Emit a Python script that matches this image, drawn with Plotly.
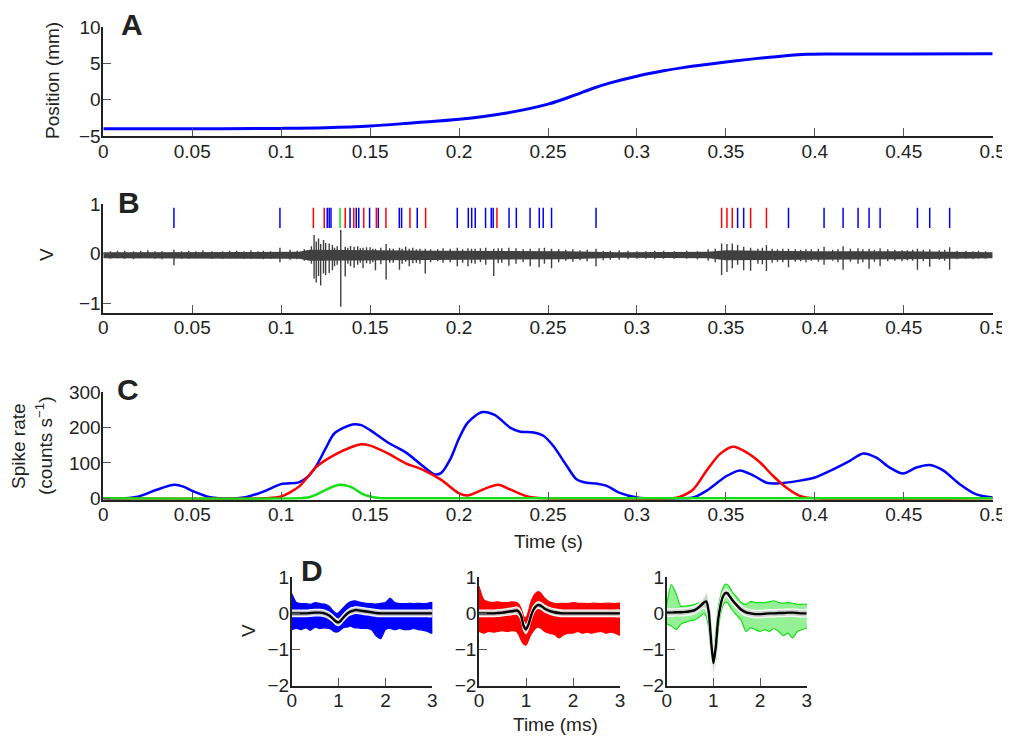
import plotly.graph_objects as go

# The page body adds an 8px margin, so every pixel position below is given in
# screenshot pixels and shifted by OFF; the height is reduced to fit the window.
OFF = 8
W, H = 1010, 738 - OFF
FONT = "Liberation Sans"
TXT = "#222222"
BLUE, RED, GREEN, DARK = "#0000ff", "#ff0000", "#14e014", "#404040"

# ---------------- Panel A: position ----------------
pos_t = [0, 0.05, 0.1, 0.125, 0.15, 0.175, 0.2, 0.225, 0.25, 0.265, 0.275, 0.285,
         0.3, 0.315, 0.325, 0.35, 0.376, 0.396, 0.42, 0.45, 0.5]
pos_mm = [-4.0, -4.0, -3.95, -3.86, -3.63, -3.17, -2.7, -1.9, -0.6, 0.64, 1.56, 2.33,
          3.25, 3.99, 4.4, 5.2, 5.9, 6.28, 6.3, 6.3, 6.35]

# ---------------- Panel B: raw trace + rasters ----------------
noise_t = [0, 0.11, 0.116, 0.14, 0.19, 0.26, 0.29, 0.34, 0.35, 0.40, 0.45, 0.5]
noise_hi = [0.03, 0.04, 0.08, 0.07, 0.06, 0.05, 0.03, 0.04, 0.07, 0.05, 0.05, 0.03]
noise_lo = [-0.09, -0.10, -0.14, -0.13, -0.12, -0.11, -0.08, -0.09, -0.13, -0.12, -0.11, -0.09]

event_t = [0.004, 0.008, 0.012, 0.017, 0.021, 0.025, 0.029, 0.033, 0.0397, 0.044, 0.048, 0.052,
           0.056, 0.061, 0.067, 0.071, 0.075, 0.079, 0.083, 0.087, 0.09, 0.094, 0.0993, 0.105,
           0.109, 0.113,
           0.117, 0.1185, 0.1197, 0.121, 0.1222, 0.1238, 0.125, 0.127, 0.1288, 0.13, 0.1315, 0.1335,
           0.136, 0.1375, 0.139, 0.141, 0.143, 0.1445, 0.146, 0.148, 0.15, 0.1515, 0.153, 0.156,
           0.159, 0.161, 0.163, 0.1665, 0.168, 0.17, 0.172, 0.174, 0.176, 0.178, 0.181, 0.184,
           0.188, 0.191, 0.195, 0.199, 0.202, 0.205, 0.207, 0.209, 0.212, 0.215, 0.2195, 0.222,
           0.224, 0.228, 0.232, 0.236, 0.24, 0.245, 0.248, 0.252, 0.256, 0.26, 0.264, 0.268,
           0.272, 0.277, 0.281, 0.285, 0.29, 0.295, 0.3, 0.305, 0.31, 0.315, 0.321, 0.328, 0.334,
           0.34, 0.344,
           0.3476, 0.3506, 0.3536, 0.3566, 0.36, 0.3639, 0.368, 0.3705, 0.3728, 0.376, 0.379,
           0.382, 0.3852, 0.389, 0.392, 0.395, 0.398, 0.402, 0.4052, 0.41, 0.413, 0.4159, 0.42,
           0.4243, 0.427, 0.4305, 0.4335, 0.4367, 0.441, 0.445, 0.449, 0.452, 0.455, 0.4577,
           0.461, 0.4646, 0.47, 0.473, 0.4758, 0.48, 0.485, 0.489, 0.492, 0.496]
event_hi = [0.05, 0.06, 0.06, 0.05, 0.06, 0.07, 0.05, 0.05, 0.08, 0.05, 0.06, 0.05,
            0.07, 0.05, 0.05, 0.06, 0.06, 0.05, 0.07, 0.05, 0.06, 0.05, 0.12, 0.08,
            0.06, 0.09,
            0.15, 0.38, 0.25, 0.31, 0.20, 0.28, 0.22, 0.21, 0.18, 0.12, 0.15, 0.48,
            0.14, 0.12, 0.16, 0.14, 0.15, 0.11, 0.12, 0.13, 0.13, 0.10, 0.10, 0.12,
            0.20, 0.11, 0.10, 0.12, 0.10, 0.14, 0.10, 0.12, 0.09, 0.10, 0.10, 0.09,
            0.09, 0.11, 0.10, 0.12, 0.09, 0.11, 0.10, 0.10, 0.11, 0.12, 0.10, 0.11,
            0.11, 0.12, 0.11, 0.09, 0.10, 0.11, 0.12, 0.10, 0.09, 0.08, 0.09, 0.07,
            0.08, 0.10, 0.06, 0.06, 0.07, 0.06, 0.05, 0.05, 0.06, 0.06, 0.05, 0.06, 0.05,
            0.09, 0.10,
            0.21, 0.20, 0.21, 0.18, 0.14, 0.12, 0.10, 0.12, 0.18, 0.10, 0.09,
            0.10, 0.10, 0.09, 0.08, 0.09, 0.09, 0.10, 0.14, 0.08, 0.09, 0.15, 0.10,
            0.11, 0.09, 0.10, 0.08, 0.11, 0.09, 0.08, 0.07, 0.07, 0.08, 0.10,
            0.08, 0.09, 0.07, 0.08, 0.13, 0.06, 0.06, 0.05, 0.06, 0.05]
event_lo = [-0.10, -0.09, -0.10, -0.11, -0.09, -0.09, -0.10, -0.11, -0.23, -0.10, -0.10, -0.09,
            -0.08, -0.10, -0.10, -0.09, -0.09, -0.10, -0.10, -0.09, -0.11, -0.10, -0.17, -0.12,
            -0.11, -0.14,
            -0.20, -0.50, -0.58, -0.45, -0.64, -0.40, -0.43, -0.39, -0.33, -0.25, -0.22, -1.07,
            -0.46, -0.20, -0.25, -0.28, -0.22, -0.18, -0.29, -0.19, -0.20, -0.17, -0.33, -0.21,
            -0.52, -0.18, -0.18, -0.32, -0.20, -0.16, -0.25, -0.19, -0.18, -0.20, -0.40, -0.17,
            -0.15, -0.18, -0.17, -0.25, -0.18, -0.25, -0.19, -0.20, -0.17, -0.22, -0.45, -0.19,
            -0.18, -0.24, -0.20, -0.17, -0.25, -0.27, -0.2, -0.29, -0.17, -0.14, -0.16, -0.13,
            -0.15, -0.25, -0.13, -0.12, -0.12, -0.11, -0.10, -0.10, -0.11, -0.10, -0.10, -0.10, -0.11,
            -0.14, -0.17,
            -0.43, -0.37, -0.29, -0.22, -0.33, -0.34, -0.20, -0.21, -0.35, -0.18, -0.16,
            -0.17, -0.27, -0.16, -0.15, -0.17, -0.14, -0.16, -0.22, -0.14, -0.17, -0.32, -0.16,
            -0.20, -0.17, -0.30, -0.16, -0.25, -0.15, -0.14, -0.15, -0.13, -0.14, -0.32,
            -0.15, -0.26, -0.12, -0.14, -0.32, -0.11, -0.10, -0.11, -0.10, -0.10]

blue_spikes = [0.0397, 0.0993, 0.1259, 0.1270, 0.1280, 0.1387, 0.1422, 0.1436, 0.1497, 0.1546,
               0.1664, 0.1677, 0.1765, 0.1990, 0.2052, 0.2071, 0.2091, 0.2149, 0.2181, 0.2192,
               0.2281, 0.2322, 0.2399, 0.2451, 0.2473, 0.2520, 0.2770, 0.3566, 0.3600, 0.3852,
               0.4052, 0.4159, 0.4243, 0.4305, 0.4367, 0.4577, 0.4646, 0.4758]
red_spikes = [0.1181, 0.1242, 0.1360, 0.1408, 0.1464, 0.1535, 0.1589, 0.1724, 0.1812, 0.2213,
              0.3476, 0.3506, 0.3536, 0.3639, 0.3728]
green_spikes = [0.1331]
raster_lo, raster_hi = 0.52, 0.93

# ---------------- Panel C: spike rates ----------------
rate_blue_t = [0, 0.012, 0.02, 0.03, 0.04, 0.045, 0.05, 0.06, 0.065, 0.075, 0.08, 0.09, 0.1, 0.11,
               0.115, 0.12, 0.125, 0.13, 0.14, 0.145, 0.15, 0.16, 0.17, 0.18, 0.186, 0.19, 0.195,
               0.2, 0.205, 0.213, 0.22, 0.2287, 0.234, 0.242, 0.2474, 0.253, 0.2605, 0.266,
               0.2717, 0.277, 0.283, 0.29, 0.3, 0.305, 0.325, 0.3316, 0.339, 0.3504, 0.3578,
               0.3653, 0.3728, 0.3785, 0.3916, 0.4, 0.4103, 0.4197, 0.4272, 0.4346, 0.4421,
               0.4496, 0.4571, 0.4646, 0.4721, 0.4815, 0.4908, 0.5]
rate_blue = [0, 0, 5, 24, 38, 33, 21, 3, 0, 0, 3, 19, 40, 45,
             61, 94, 141, 184, 209, 207, 193, 158, 130, 90, 68, 72, 110,
             170, 215, 244, 236, 200, 189, 186, 177, 148, 92, 54,
             44, 42, 35, 16, 2, 0, 0, 2, 21, 63, 79,
             65, 44, 42, 50, 59, 82, 106, 127, 115, 87,
             70, 87, 94, 79, 40, 11, 2]
rate_red_t = [0, 0.09, 0.1, 0.11, 0.115, 0.12, 0.13, 0.14, 0.145, 0.15, 0.16, 0.17, 0.18, 0.19,
              0.2, 0.205, 0.215, 0.222, 0.2287, 0.238, 0.2474, 0.32, 0.324, 0.3316, 0.339,
              0.3466, 0.3541, 0.3616, 0.3691, 0.3766, 0.3841, 0.3916, 0.4, 0.5]
rate_red = [0, 0, 5, 33, 61, 90, 123, 146, 153, 149, 127, 99, 80, 52,
            14, 8, 28, 38, 25, 6, 0, 0, 4, 25, 77,
            125, 146, 130, 102, 63, 30, 7, 0, 0]
rate_green_t = [0, 0.11, 0.115, 0.12, 0.125, 0.133, 0.14, 0.145, 0.15, 0.155, 0.16, 0.5]
rate_green = [0, 0, 2, 11, 24, 38, 30, 14, 5, 1, 0, 0]

# ---------------- Panel D: waveforms (ms, V) ----------------
wf_t = [0, 0.1, 0.2, 0.3, 0.4, 0.5, 0.6, 0.7, 0.8, 0.85, 0.9, 0.95, 1.0, 1.05, 1.1, 1.15, 1.2,
        1.25, 1.3, 1.35, 1.4, 1.5, 1.6, 1.7, 1.8, 1.9, 2.0, 2.1, 2.2, 2.3, 2.4, 2.5, 2.6, 2.7,
        2.8, 2.9, 3.0]
blue_mean = [0, 0, 0, 0, 0.01, 0.02, 0.02, 0, -0.06, -0.11, -0.17, -0.23, -0.25, -0.2, -0.12,
             -0.05, 0.01, 0.05, 0.07, 0.09, 0.09, 0.07, 0.05, 0.03, 0.01, 0, 0, 0, 0, 0, 0, 0,
             0, 0, 0, 0, 0]
blue_sd = [0.09] * 37
blue_hi = [0.55, 0.3, 0.27, 0.27, 0.25, 0.3, 0.27, 0.26, 0.2, 0.12, 0.05, 0.0, 0.02, 0.08, 0.15,
           0.22, 0.28, 0.32, 0.34, 0.35, 0.33, 0.3, 0.28, 0.27, 0.26, 0.28, 0.3, 0.42, 0.3, 0.27,
           0.27, 0.28, 0.27, 0.28, 0.27, 0.28, 0.3]
blue_lo = [-0.45, -0.42, -0.45, -0.4, -0.47, -0.38, -0.42, -0.4, -0.42, -0.45, -0.5, -0.52, -0.5,
           -0.45, -0.4, -0.38, -0.38, -0.35, -0.38, -0.4, -0.4, -0.42, -0.42, -0.45, -0.62, -0.7,
           -0.45, -0.42, -0.45, -0.42, -0.45, -0.45, -0.42, -0.45, -0.47, -0.5, -0.55]
red_mean = [0, 0, 0, 0, 0.01, 0.02, 0.04, 0.06, 0.08, 0.04, -0.08, -0.35, -0.44, -0.32, -0.1,
            0.08, 0.18, 0.23, 0.22, 0.18, 0.13, 0.07, 0.03, 0.01, 0, 0, 0, 0, 0, 0, 0, 0, 0,
            0, 0, 0, 0]
red_sd = [0.09] * 8 + [0.1, 0.11, 0.12, 0.12, 0.12, 0.12, 0.11, 0.1] + [0.09] * 21
red_hi = [0.75, 0.38, 0.32, 0.3, 0.32, 0.3, 0.3, 0.32, 0.3, 0.25, 0.12, -0.08, -0.12, 0.05, 0.3,
          0.45, 0.55, 0.6, 0.58, 0.5, 0.42, 0.32, 0.28, 0.27, 0.28, 0.27, 0.3, 0.28, 0.28, 0.27,
          0.28, 0.28, 0.27, 0.28, 0.28, 0.27, 0.28]
red_lo = [-0.5, -0.55, -0.5, -0.52, -0.5, -0.48, -0.5, -0.48, -0.5, -0.6, -0.75, -0.85, -0.88,
          -0.75, -0.6, -0.5, -0.42, -0.38, -0.4, -0.45, -0.5, -0.55, -0.58, -0.68, -0.6, -0.55,
          -0.55, -0.5, -0.55, -0.52, -0.55, -0.52, -0.5, -0.55, -0.52, -0.55, -0.6]
green_mean = [0.02, 0.02, 0.03, 0.03, 0.04, 0.06, 0.09, 0.18, 0.3, 0.33, 0.05, -0.74, -1.38,
              -0.95, -0.2, 0.2, 0.45, 0.56, 0.56, 0.47, 0.38, 0.23, 0.1, 0.03, 0.0, -0.02, -0.02,
              -0.01, 0, 0, 0.01, 0.01, 0.02, 0.02, 0.01, 0, 0]
green_sd = [0.1] * 8 + [0.15, 0.25, 0.3, 0.35, 0.35, 0.3, 0.2, 0.15, 0.12] + [0.1] * 20
green_hi = [0.25, 0.8, 0.55, 0.2, 0.2, 0.22, 0.25, 0.3, 0.4, 0.45, 0.3, -0.4, -1.05, -0.55, 0.1,
            0.45, 0.68, 0.8, 0.8, 0.72, 0.6, 0.45, 0.3, 0.25, 0.33, 0.3, 0.3, 0.3, 0.32, 0.35,
            0.3, 0.28, 0.3, 0.28, 0.25, 0.25, 0.25]
green_lo = [-0.3, -0.35, -0.45, -0.3, -0.25, -0.2, -0.18, -0.1, 0.0, -0.1, -0.4, -1.05, -1.55,
            -1.3, -0.5, -0.05, 0.2, 0.3, 0.3, 0.2, 0.1, -0.05, -0.2, -0.5, -0.4, -0.45, -0.5,
            -0.45, -0.5, -0.42, -0.5, -0.62, -0.55, -0.68, -0.5, -0.45, -0.4]

# ---------------- tick labels ----------------
time_s_ticks = [0, 0.05, 0.1, 0.15, 0.2, 0.25, 0.3, 0.35, 0.4, 0.45, 0.5]
time_s_text = ["0", "0.05", "0.1", "0.15", "0.2", "0.25", "0.3", "0.35", "0.4", "0.45", "0.5"]
pos_ticks, pos_text = [-5, 0, 5, 10], ["\u22125", "0", "5", "10"]
v_ticks, v_text = [-1, 0, 1], ["\u22121", "0", "1"]
rate_ticks, rate_text = [0, 100, 200, 300], ["0", "100", "200", "300"]
ms_ticks, ms_text = [0, 1, 2, 3], ["0", "1", "2", "3"]
wf_vticks, wf_vtext = [-2, -1, 0, 1], ["\u22122", "\u22121", "0", "1"]

# ---------------- figure ----------------
fig = go.Figure()


def fx(p):
    return (p - OFF) / W


def fy(p):
    return 1 - (p - OFF) / H


# A
fig.add_trace(go.Scatter(x=pos_t, y=pos_mm, mode="lines", line=dict(color=BLUE, width=3, shape="spline"),
                         xaxis="x", yaxis="y", hoverinfo="skip"))

# B noise band
fig.add_trace(go.Scatter(x=noise_t + noise_t[::-1], y=noise_hi + noise_lo[::-1], mode="lines",
                         fill="toself", fillcolor=DARK, line=dict(width=0, color=DARK),
                         xaxis="x2", yaxis="y2", hoverinfo="skip"))
ex, ey = [], []
for t, hi, lo in zip(event_t, event_hi, event_lo):
    ex += [t, t, None]
    ey += [lo, hi, None]
fig.add_trace(go.Scatter(x=ex, y=ey, mode="lines", line=dict(color=DARK, width=1.4),
                         xaxis="x2", yaxis="y2", hoverinfo="skip"))
for spikes, col in [(blue_spikes, BLUE), (red_spikes, RED), (green_spikes, GREEN)]:
    rx, ry = [], []
    for t in spikes:
        rx += [t, t, None]
        ry += [raster_lo, raster_hi, None]
    fig.add_trace(go.Scatter(x=rx, y=ry, mode="lines", line=dict(color=col, width=1.5),
                             xaxis="x2", yaxis="y2", hoverinfo="skip"))

# C
for tt, rr, col in [(rate_blue_t, rate_blue, BLUE), (rate_red_t, rate_red, RED),
                    (rate_green_t, rate_green, GREEN)]:
    fig.add_trace(go.Scatter(x=tt, y=rr, mode="lines",
                             line=dict(color=col, width=2.5, shape="spline", smoothing=0.8),
                             xaxis="x3", yaxis="y3", hoverinfo="skip"))

# D
panels = [(blue_mean, blue_sd, blue_hi, blue_lo, "#0000ff", "rgba(0,0,255,1)", "4"),
          (red_mean, red_sd, red_hi, red_lo, "#ff0000", "rgba(255,0,0,1)", "5"),
          (green_mean, green_sd, green_hi, green_lo, GREEN, "rgba(20,224,20,0.45)", "6")]
for mean, sd, hi, lo, col, fillcol, k in panels:
    xa, ya = "x" + k, "y" + k
    fig.add_trace(go.Scatter(x=wf_t + wf_t[::-1], y=hi + lo[::-1], mode="lines", fill="toself",
                             fillcolor=fillcol, line=dict(color=col, width=1.2, shape="spline", smoothing=0.6),
                             xaxis=xa, yaxis=ya, hoverinfo="skip"))
    up = [m + s for m, s in zip(mean, sd)]
    dn = [m - s for m, s in zip(mean, sd)]
    fig.add_trace(go.Scatter(x=wf_t + wf_t[::-1], y=up + dn[::-1], mode="lines", fill="toself",
                             fillcolor="rgba(205,205,205,0.95)",
                             line=dict(color="rgba(245,245,245,1)", width=1.4, shape="spline", smoothing=0.6),
                             xaxis=xa, yaxis=ya, hoverinfo="skip"))
    fig.add_trace(go.Scatter(x=wf_t, y=mean, mode="lines",
                             line=dict(color="#000000", width=2.4, shape="spline", smoothing=0.6),
                             xaxis=xa, yaxis=ya, hoverinfo="skip"))


def axis(dom, rng, tv, tt, anchor):
    return dict(domain=dom, range=rng, tickvals=tv, ticktext=tt, ticks="inside", ticklen=8,
                tickwidth=1.3, tickcolor="#555555", showline=True, linecolor="#222222", linewidth=1.6,
                showgrid=False, zeroline=False, anchor=anchor, fixedrange=True, automargin=False,
                ticklabelstandoff=-3,
                tickfont=dict(family=FONT, size=19, color=TXT))


XL, XR = fx(103.3), fx(992.7)
layout = dict(
    width=W, height=H, margin=dict(l=0, r=0, t=0, b=0, autoexpand=False), showlegend=False,
    paper_bgcolor="white", plot_bgcolor="white",
    font=dict(family=FONT, size=19, color=TXT),
    xaxis=axis([XL, XR], [0, 0.5], time_s_ticks, time_s_text, "y"),
    yaxis=axis([fy(136), fy(27.3)], [-5, 10], pos_ticks, pos_text, "x"),
    xaxis2=axis([XL, XR], [0, 0.5], time_s_ticks, time_s_text, "y2"),
    yaxis2=axis([fy(312.7), fy(204.3)], [-1.19, 1], v_ticks, v_text, "x2"),
    xaxis3=axis([XL, XR], [0, 0.5], time_s_ticks, time_s_text, "y3"),
    yaxis3=axis([fy(499.7), fy(392.3)], [-4, 300], rate_ticks, rate_text, "x3"),
)
dx = [(291.7, 432.3), (479, 620), (666.7, 806.7)]
for i, (a, b) in enumerate(dx):
    k = str(i + 4)
    layout["xaxis" + k] = axis([fx(a), fx(b)], [0, 3], ms_ticks, ms_text, "y" + k)
    layout["yaxis" + k] = axis([fy(685.5), fy(577.3)], [-2, 1], wf_vticks, wf_vtext, "x" + k)
fig.update_layout(**layout)

ann = []


def label(x, y, text, size=19, angle=0, bold=False):
    ann.append(dict(x=fx(x), y=fy(y), xref="paper", yref="paper", text=("<b>%s</b>" % text) if bold else text,
                    showarrow=False, textangle=angle, xanchor="center", yanchor="middle",
                    font=dict(family=FONT, size=size, color=TXT)))


label(132, 25, "A", 30, bold=True)
label(129, 202, "B", 30, bold=True)
label(128, 389, "C", 30, bold=True)
label(312, 570, "D", 30, bold=True)
label(53, 81, "Position (mm)", 19, -90)
label(46, 255, "V", 19, -90)
label(18, 446, "Spike rate", 19, -90)
label(44, 446, "(counts s<sup>\u22121</sup>)", 19, -90)
label(548, 541, "Time (s)", 19)
label(248, 631, "V", 19, -90)
label(555, 724, "Time (ms)", 19)
fig.update_layout(annotations=ann)

fig.write_html("out.html")
